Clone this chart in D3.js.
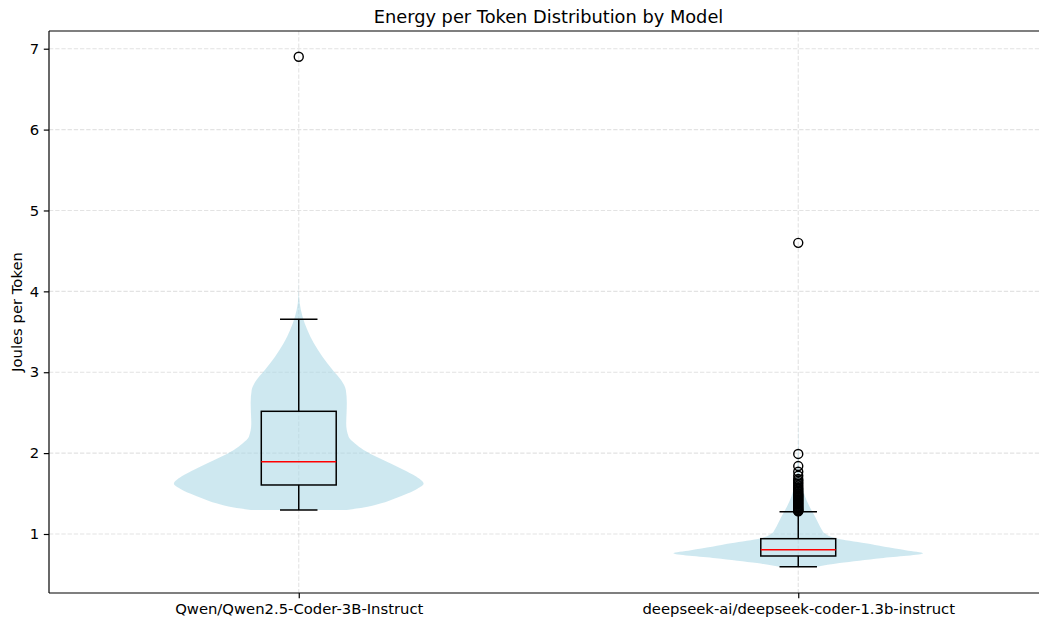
<!DOCTYPE html>
<html>
<head>
<meta charset="utf-8">
<script src="https://cdn.jsdelivr.net/npm/d3@7"></script>
<style>
  html, body { margin: 0; padding: 0; background: #fff; }
  svg { display: block; }
  text { font-family: "DejaVu Sans", sans-serif; fill: #000; }
</style>
</head>
<body>
<div id="chart"></div>
<script>
// ---- Data ----
const models = ["Qwen/Qwen2.5-Coder-3B-Instruct", "deepseek-ai/deepseek-coder-1.3b-instruct"];
const positions = [1, 2];
const boxQ1 = [1.606, 0.728];
const boxMedian = [1.894, 0.806];
const boxQ3 = [2.517, 0.942];
const whiskerLow = [1.297, 0.596];
const whiskerHigh = [3.654, 1.276];
const qwenOutliers = [6.90];
const deepseekOutliers = [4.60, 1.99, 1.84, 1.77, 1.72, 1.68, 1.66, 1.64, 1.62, 1.60, 1.58, 1.56, 1.55, 1.53,
  1.52, 1.50, 1.49, 1.48, 1.47, 1.46, 1.45, 1.44, 1.43, 1.42, 1.41, 1.40, 1.39, 1.38, 1.37, 1.36, 1.35,
  1.34, 1.33, 1.32, 1.31, 1.30, 1.29, 1.285, 1.28];
// violin density profiles (value, relative half-width)
const qwenDensityY = [1.297, 1.33, 1.38, 1.44, 1.50, 1.56, 1.62, 1.71, 1.80, 1.87, 1.95, 2.04, 2.12, 2.20, 2.37, 2.50, 2.62, 2.78, 2.90, 3.03, 3.19, 3.36, 3.52, 3.69, 3.85, 4.00, 4.30, 6.90];
const qwenDensityW = [0.385, 0.53, 0.66, 0.77, 0.87, 0.95, 1.00, 0.94, 0.83, 0.74, 0.63, 0.52, 0.45, 0.40, 0.38, 0.383, 0.385, 0.377, 0.34, 0.27, 0.19, 0.12, 0.07, 0.03, 0.008, 0.001, 0.0, 0.0];
const deepseekDensityY = [0.596, 0.64, 0.70, 0.761, 0.80, 0.843, 0.885, 0.947, 1.008, 1.05, 1.136, 1.256, 1.34, 1.46, 1.58, 1.70, 1.85, 2.00, 2.30, 3.00, 4.60];
const deepseekDensityW = [0.15, 0.33, 0.66, 1.00, 0.86, 0.69, 0.54, 0.30, 0.21, 0.19, 0.16, 0.12, 0.09, 0.055, 0.033, 0.015, 0.006, 0.003, 0.001, 0.0, 0.0];
const yTicks = [1, 2, 3, 4, 5, 6, 7];
const titleText = "Energy per Token Distribution by Model";
const yLabelText = "Joules per Token";

(function () {
// ---- Layout ----
const W = 1039, H = 618;
const mLeft = 49, mRight = 1048, mTop = 31, mBottom = 593;
const tickFont = "14.8px", titleFont = "17.8px";
const lw = 1.49, spineW = 1.18, tickLen = 5.2;

const svg = d3.select("#chart").append("svg").attr("width", W).attr("height", H);

const x = d3.scaleLinear().domain([0.5, 2.5]).range([mLeft, mRight]);
const y = d3.scaleLinear().domain([0.2705, 7.219]).range([mBottom, mTop]);

// grid
const grid = svg.append("g");
grid.selectAll("line.gy").data(yTicks).join("line")
  .attr("x1", mLeft).attr("x2", mRight)
  .attr("y1", d => y(d)).attr("y2", d => y(d))
  .attr("stroke", "#b0b0b0").attr("stroke-opacity", 0.35)
  .attr("stroke-width", 1.1).attr("stroke-dasharray", "4.3,1.9");
grid.selectAll("line.gx").data(positions).join("line")
  .attr("x1", d => x(d)).attr("x2", d => x(d))
  .attr("y1", mTop).attr("y2", mBottom)
  .attr("stroke", "#b0b0b0").attr("stroke-opacity", 0.35)
  .attr("stroke-width", 1.1).attr("stroke-dasharray", "4.3,1.9");

// violins
const profiles = [
  qwenDensityY.map((v, i) => ({ v, w: qwenDensityW[i] })),
  deepseekDensityY.map((v, i) => ({ v, w: deepseekDensityW[i] }))
];
const halfWidth = 0.25;
profiles.forEach((prof, i) => {
  const p = positions[i];
  const area = d3.area()
    .y(d => y(d.v))
    .x0(d => x(p - halfWidth * d.w))
    .x1(d => x(p + halfWidth * d.w))
    .curve(d3.curveMonotoneY);
  svg.append("path").datum(prof)
    .attr("d", area)
    .attr("fill", "lightblue").attr("fill-opacity", 0.6)
    .attr("stroke", "none");
});

// boxplots
const boxHalf = 0.075, capHalf = 0.0375;
const bx = svg.append("g").attr("fill", "none");
positions.forEach((p, i) => {
  bx.append("rect")
    .attr("x", x(p - boxHalf)).attr("y", y(boxQ3[i]))
    .attr("width", x(p + boxHalf) - x(p - boxHalf))
    .attr("height", y(boxQ1[i]) - y(boxQ3[i]))
    .attr("stroke", "#000").attr("stroke-width", lw);
  bx.append("line").attr("x1", x(p)).attr("x2", x(p))
    .attr("y1", y(boxQ1[i])).attr("y2", y(whiskerLow[i]))
    .attr("stroke", "#000").attr("stroke-width", lw);
  bx.append("line").attr("x1", x(p)).attr("x2", x(p))
    .attr("y1", y(boxQ3[i])).attr("y2", y(whiskerHigh[i]))
    .attr("stroke", "#000").attr("stroke-width", lw);
  [whiskerLow[i], whiskerHigh[i]].forEach(v => {
    bx.append("line").attr("x1", x(p - capHalf)).attr("x2", x(p + capHalf))
      .attr("y1", y(v)).attr("y2", y(v))
      .attr("stroke", "#000").attr("stroke-width", lw);
  });
  bx.append("line").attr("x1", x(p - boxHalf)).attr("x2", x(p + boxHalf))
    .attr("y1", y(boxMedian[i])).attr("y2", y(boxMedian[i]))
    .attr("stroke", "red").attr("stroke-width", lw);
});

// outliers
const outlierSets = [qwenOutliers, deepseekOutliers];
outlierSets.forEach((set, i) => {
  svg.append("g").selectAll("circle").data(set).join("circle")
    .attr("cx", x(positions[i])).attr("cy", d => y(d)).attr("r", 4.5)
    .attr("fill", "none").attr("stroke", "#000").attr("stroke-width", 1.4);
});

// spines
const spine = (x1, x2, y1, y2) => svg.append("line").attr("x1", x1).attr("x2", x2).attr("y1", y1).attr("y2", y2)
  .attr("stroke", "#000").attr("stroke-width", spineW);
spine(mLeft, mLeft, mTop, mBottom);
spine(mLeft, mRight, mBottom, mBottom);
spine(mLeft, mRight, mTop, mTop);
spine(mRight, mRight, mTop, mBottom);

// y axis
const yAxis = d3.axisLeft(y).tickValues(yTicks).tickFormat(d3.format("d"))
  .tickSize(tickLen).tickPadding(4.6);
const gy = svg.append("g").attr("transform", `translate(${mLeft},0)`).call(yAxis);
gy.select(".domain").remove();
gy.selectAll(".tick line").attr("stroke", "#000").attr("stroke-width", spineW);
gy.selectAll(".tick text").attr("font-size", tickFont).attr("font-family", "DejaVu Sans").attr("fill", "#000");

// x axis
const xAxis = d3.axisBottom(x).tickValues(positions).tickFormat((d, i) => models[i])
  .tickSize(tickLen).tickPadding(5.2);
const gx = svg.append("g").attr("transform", `translate(0,${mBottom})`).call(xAxis);
gx.select(".domain").remove();
gx.selectAll(".tick line").attr("stroke", "#000").attr("stroke-width", spineW);
gx.selectAll(".tick text").attr("font-size", tickFont).attr("font-family", "DejaVu Sans").attr("fill", "#000");

// title
svg.append("text").attr("x", (mLeft + mRight) / 2).attr("y", 22.5)
  .attr("text-anchor", "middle").attr("font-size", titleFont).text(titleText);

// y label
svg.append("text")
  .attr("transform", `translate(22,${(mTop + mBottom) / 2}) rotate(-90)`)
  .attr("text-anchor", "middle").attr("font-size", tickFont).text(yLabelText);
})();
</script>
</body>
</html>
